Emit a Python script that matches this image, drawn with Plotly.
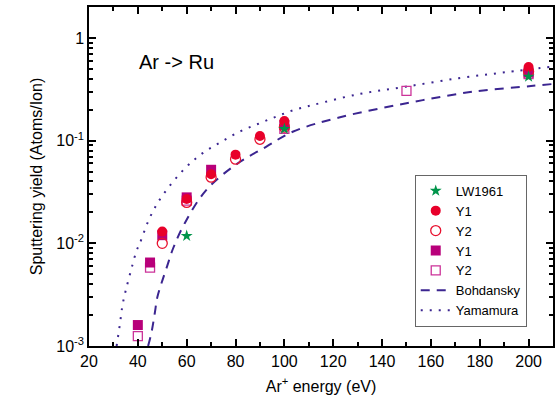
import plotly.graph_objects as go

# ---- data ----
lw_x = [60, 100, 200]
lw_y = [0.0118, 0.13, 0.42]

y1c_x = [50, 60, 70, 80, 90, 100, 200]
y1c_y = [0.013, 0.027, 0.047, 0.073, 0.111, 0.155, 0.52]

y2c_x = [50, 60, 70, 80, 90, 100, 200]
y2c_y = [0.0100, 0.025, 0.044, 0.066, 0.103, 0.135, 0.47]

y1s_x = [40, 45, 50, 60, 70, 100, 200]
y1s_y = [0.0016, 0.0065, 0.0120, 0.028, 0.052, 0.142, 0.46]

y2s_x = [40, 45, 60, 100, 150, 200]
y2s_y = [0.00125, 0.0058, 0.026, 0.13, 0.305, 0.445]

bohd_x = [44.2, 45.6, 46.9, 48, 49.7, 52, 54.5, 59.2, 68, 80, 92.5, 103.4, 122.4, 150, 177, 201, 210]
bohd_y = [0.001, 0.00136, 0.00206, 0.003, 0.0041, 0.006, 0.009, 0.0157, 0.033, 0.058, 0.087, 0.122, 0.168, 0.231, 0.299, 0.34, 0.356]

yama_x = [31.3, 32.7, 33.6, 34.4, 35.4, 37.5, 39.5, 40.8, 45, 49.7, 59.2, 66.7, 74.1, 81.6, 89.1, 96.6, 104, 111.6, 130.6, 149.7, 171.4, 190.5, 210]
yama_y = [0.001, 0.00166, 0.0024, 0.003, 0.00375, 0.0058, 0.0085, 0.010, 0.018, 0.0283, 0.0535, 0.076, 0.097, 0.122, 0.145, 0.171, 0.199, 0.222, 0.284, 0.335, 0.405, 0.463, 0.525]

x_ticks = [20, 40, 60, 80, 100, 120, 140, 160, 180, 200]
y_ticks = [0.001, 0.01, 0.1, 1]
y_ticktext = ["10<sup>-3</sup>", "10<sup>-2</sup>", "10<sup>-1</sup>", "1"]
y_minor = [m * d for d in [0.001, 0.01, 0.1, 1] for m in range(2, 10)]

LINE = "#3b2590"
FONT = "Liberation Sans, Arial, sans-serif"

fig = go.Figure()
fig.add_trace(go.Scatter(x=bohd_x, y=bohd_y, mode="lines", name="Bohdansky",
                         line=dict(color=LINE, width=2, dash="9px,7px", shape="spline"),
                         legendrank=6))
fig.add_trace(go.Scatter(x=yama_x, y=yama_y, mode="lines", name="Yamamura",
                         line=dict(color=LINE, width=2, dash="2px,7px", shape="spline"),
                         legendrank=7))
fig.add_trace(go.Scatter(x=y2s_x, y=y2s_y, mode="markers", name="Y2",
                         marker=dict(symbol="square-open", size=9, color="#cc3399", line=dict(width=1.3)),
                         legendrank=5))
fig.add_trace(go.Scatter(x=y1s_x, y=y1s_y, mode="markers", name="Y1",
                         marker=dict(symbol="square", size=10, color="#b8007a"),
                         legendrank=4))
fig.add_trace(go.Scatter(x=y2c_x, y=y2c_y, mode="markers", name="Y2",
                         marker=dict(symbol="circle-open", size=10, color="#e8102e", line=dict(width=1.3)),
                         legendrank=3))
fig.add_trace(go.Scatter(x=y1c_x, y=y1c_y, mode="markers", name="Y1",
                         marker=dict(symbol="circle", size=10, color="#e8002a"),
                         legendrank=2))
fig.add_trace(go.Scatter(x=lw_x, y=lw_y, mode="markers", name="LW1961",
                         marker=dict(symbol="star", size=9, color="#00944a"),
                         legendrank=1))

fig.add_annotation(text="Ar -> Ru", xref="paper", yref="paper", x=0.103, y=0.838,
                   xanchor="left", yanchor="middle", showarrow=False,
                   font=dict(size=20, color="black", family=FONT))

fig.update_layout(
    width=556, height=409,
    margin=dict(l=89, r=1, t=7, b=63),
    paper_bgcolor="white", plot_bgcolor="white",
    font=dict(family=FONT, size=15, color="black"),
    showlegend=True,
    legend=dict(x=0.702, y=0.505, xanchor="left", yanchor="top",
                bgcolor="white", bordercolor="#666666", borderwidth=1,
                font=dict(size=13, family=FONT), tracegroupgap=0, itemwidth=30,
                traceorder="normal"),
    xaxis=dict(range=[20, 210], tickvals=x_ticks, ticks="inside", ticklen=7,
               tickwidth=1.5, tickcolor="black", showline=True, linecolor="black",
               linewidth=1.5, mirror="ticks", showgrid=False, zeroline=False,
               minor=dict(dtick=10, tick0=0, ticks="inside", ticklen=4, tickcolor="black", showgrid=False),
               title=dict(text="Ar<sup>+</sup> energy (eV)", font=dict(size=16), standoff=12),
               tickfont=dict(size=16)),
    yaxis=dict(type="log", range=[-3, 0.301], tickvals=y_ticks, ticktext=y_ticktext,
               ticks="inside", ticklen=7, tickwidth=1.5, tickcolor="black",
               showline=True, linecolor="black", linewidth=1.5, mirror="ticks",
               showgrid=False, zeroline=False,
               minor=dict(tickvals=y_minor, ticks="inside", ticklen=4, tickcolor="black", showgrid=False),
               title=dict(text="Sputtering yield (Atoms/Ion)", font=dict(size=16), standoff=10),
               tickfont=dict(size=16)),
)

fig.write_html("out.html")
